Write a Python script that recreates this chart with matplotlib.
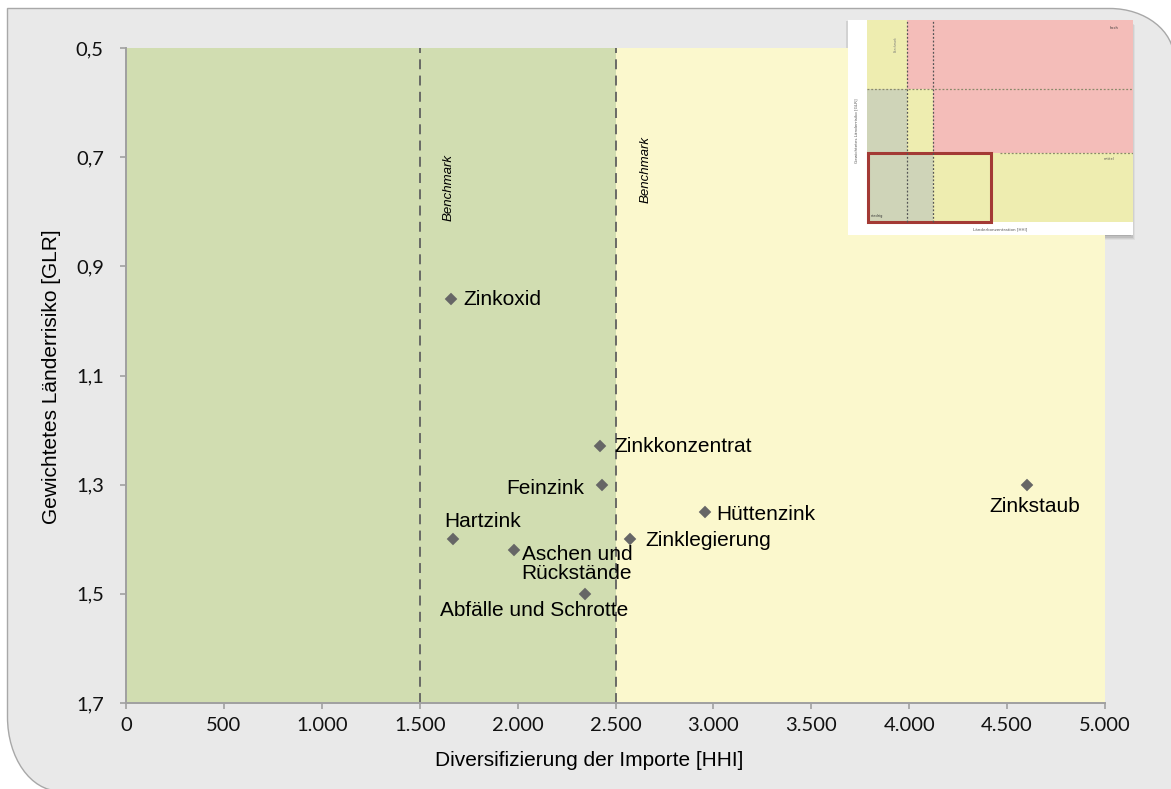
import matplotlib
matplotlib.use("Agg")
import matplotlib.pyplot as plt
from matplotlib.path import Path
from matplotlib.patches import PathPatch, Rectangle
from matplotlib.ticker import FixedLocator, FuncFormatter

# --- data -------------------------------------------------------------
products = ["Zinkoxid", "Zinkkonzentrat", "Feinzink", "Hartzink",
            "Aschen und\nRückstände", "Abfälle und Schrotte",
            "Zinklegierung", "Hüttenzink", "Zinkstaub"]
hhi = [1660, 2420, 2430, 1670, 1980, 2345, 2575, 2955, 4600]
glr = [0.96, 1.23, 1.30, 1.40, 1.42, 1.50, 1.40, 1.35, 1.30]

benchmarks = [1500, 2500]
x_ticks = [0, 500, 1000, 1500, 2000, 2500, 3000, 3500, 4000, 4500, 5000]
y_ticks = [0.5, 0.7, 0.9, 1.1, 1.3, 1.5, 1.7]

# label placement: (dx, dy) in pixels, horizontal / vertical alignment
label_style = [
    (12, 0, "left", "center"),
    (15, 0, "left", "center"),
    (-18, -4, "right", "center"),
    (-9, 18, "left", "center"),
    (8, 5, "left", "top"),
    (-51, -17, "center", "center"),
    (15, -1, "left", "center"),
    (12, -3, "left", "center"),
    (8, -22, "center", "center"),
]

W, H, DPI = 1171, 789, 100
fig = plt.figure(figsize=(W / DPI, H / DPI), dpi=DPI)
fig.patch.set_facecolor("white")

# --- panel background with rounded corners ------------------------------
bg = fig.add_axes([0, 0, 1, 1])
bg.set_xlim(0, W)
bg.set_ylim(H, 0)
bg.axis("off")
k = 0.5523
L, T, R, B = 7.5, 8.5, 1174, 791
rtx, rty = 64, 50
rbx, rby = 52, 74
verts = [
    (L, T),
    (R - rtx, T),
    (R - rtx + k * rtx, T), (R, T + rty - k * rty), (R, T + rty),
    (R, B),
    (L + rbx, B),
    (L + rbx - k * rbx, B), (L, B - rby + k * rby), (L, B - rby),
    (L, T),
]
codes = [Path.MOVETO, Path.LINETO,
         Path.CURVE4, Path.CURVE4, Path.CURVE4,
         Path.LINETO, Path.LINETO,
         Path.CURVE4, Path.CURVE4, Path.CURVE4,
         Path.CLOSEPOLY]
bg.add_patch(PathPatch(Path(verts, codes), facecolor="#e9e9e9",
                       edgecolor="#a8a8a8", lw=1.0))

# --- main chart -------------------------------------------------------
ax_l, ax_r, ax_t, ax_b = 126, 1105, 48, 703
ax = fig.add_axes([ax_l / W, 1 - ax_b / H, (ax_r - ax_l) / W, (ax_b - ax_t) / H])
ax.set_xlim(x_ticks[0], x_ticks[-1])
ax.set_ylim(y_ticks[-1], y_ticks[0])
ax.set_facecolor("none")

ax.axvspan(x_ticks[0], benchmarks[1], color="#d1ddb1", lw=0, zorder=0)
ax.axvspan(benchmarks[1], x_ticks[-1], color="#fbf8cd", lw=0, zorder=0)

for b in benchmarks:
    ax.axvline(b, color="#606060", lw=1.3, dashes=(5.5, 3.5), zorder=1)

ax.text(1648, 0.755, "Benchmark", rotation=90, style="italic",
        family="Liberation Sans", fontsize=9.5, ha="center", va="center")
ax.text(2652, 0.722, "Benchmark", rotation=90, style="italic",
        family="Liberation Sans", fontsize=9.5, ha="center", va="center")

ax.plot(hhi, glr, linestyle="none", marker="D", ms=6.6,
        color="#666666", mec="#666666", mew=0.3, zorder=3)

for name, x, y, (dx, dy, ha, va) in zip(products, hhi, glr, label_style):
    ax.annotate(name, (x, y), xytext=(dx, dy), textcoords="offset pixels",
                ha=ha, va=va, fontsize=15, family="Liberation Sans",
                color="black", linespacing=1.0, zorder=4)

for side in ("top", "right"):
    ax.spines[side].set_visible(False)
for side in ("left", "bottom"):
    ax.spines[side].set_color("#a0a0a0")
    ax.spines[side].set_linewidth(1.4)

ax.xaxis.set_major_locator(FixedLocator(x_ticks))
ax.yaxis.set_major_locator(FixedLocator(y_ticks))
ax.xaxis.set_major_formatter(FuncFormatter(
    lambda v, p: f"{int(round(v)):,}".replace(",", ".")))
ax.yaxis.set_major_formatter(FuncFormatter(
    lambda v, p: f"{v:.1f}".replace(".", ",")))
ax.tick_params(axis="both", direction="out", length=4, width=1.2,
               color="#a0a0a0", labelsize=14.5, labelcolor="#111111")
ax.tick_params(axis="x", pad=6)
ax.tick_params(axis="y", pad=12)
for lab in ax.get_xticklabels() + ax.get_yticklabels():
    lab.set_family("Lato")

ax.set_xlabel("Diversifizierung der Importe [HHI]", family="Liberation Sans",
              fontsize=15)
ax.set_ylabel("Gewichtetes Länderrisiko [GLR]", family="Liberation Sans",
              fontsize=15)
ax.xaxis.set_label_coords((589 - ax_l) / (ax_r - ax_l),
                          -(760 - ax_b) / (ax_b - ax_t))
ax.yaxis.set_label_coords(-(ax_l - 52) / (ax_r - ax_l),
                          (ax_b - 377) / (ax_b - ax_t))
ax.xaxis.label.set_va("center")
ax.yaxis.label.set_va("center")

# --- thumbnail of the full risk matrix --------------------------------
ix0, iy0, ix1, iy1 = 848, 20, 1133, 235
for i, a in enumerate([0.06, 0.08, 0.10, 0.12]):
    off = 5 - i * 1.2
    bg.add_patch(Rectangle((ix0 + off - 3, iy0 + off), ix1 - ix0, iy1 - iy0,
                           facecolor="#303030", alpha=a, lw=0, zorder=5))

inset = fig.add_axes([ix0 / W, 1 - iy1 / H, (ix1 - ix0) / W, (iy1 - iy0) / H])
inset.set_facecolor("white")
inset.set_xticks([])
inset.set_yticks([])
for s in inset.spines.values():
    s.set_visible(False)
inset.set_xlim(-700, 10000)
inset.set_ylim(-0.065, 1.0)

ti_yellow, ti_red, ti_green = "#eeedb0", "#f4bdb9", "#cfd4b8"
zones = [
    (0, 1500, 0.66, 1.0, ti_yellow),
    (1500, 10000, 0.66, 1.0, ti_red),
    (0, 1500, 0.34, 0.66, ti_green),
    (1500, 2500, 0.34, 0.66, ti_yellow),
    (2500, 10000, 0.34, 0.66, ti_red),
    (0, 2500, 0.0, 0.34, ti_green),
    (2500, 10000, 0.0, 0.34, ti_yellow),
]
for x0, x1, y0, y1, c in zones:
    inset.add_patch(Rectangle((x0, y0), x1 - x0, y1 - y0, facecolor=c, lw=0))
for b in benchmarks:
    inset.plot([b, b], [0, 1], color="#555555", lw=0.9, dashes=(1.5, 1.5))
inset.plot([0, 10000], [0.66, 0.66], color="#8a8a6a", lw=0.9, dashes=(1.5, 1.5))
inset.plot([5000, 10000], [0.34, 0.34], color="#8a8a6a", lw=0.9, dashes=(1.5, 1.5))
inset.add_patch(Rectangle((50, 0.0), 4600, 0.34, facecolor="none",
                          edgecolor="#a33a35", lw=2.2))
inset.text(9300, 0.96, "hoch", fontsize=2.5, ha="center", va="center",
           color="#333333")
inset.text(9100, 0.31, "mittel", fontsize=2.5, ha="center", va="center",
           color="#555555")
inset.text(400, 0.03, "niedrig", fontsize=2.5, ha="center", va="center",
           color="#333333")
inset.text(-380, 0.45, "Gewichtetes Länderrisiko [GLR]", fontsize=3,
           rotation=90, ha="center", va="center", color="#555555")
inset.text(5000, -0.035, "Länderkonzentration [HHI]", fontsize=3,
           ha="center", va="center", color="#555555")
inset.text(1100, 0.88, "Benchmark", fontsize=2, rotation=90,
           ha="center", va="center", color="#777777")

fig.savefig("out.png", dpi=DPI, facecolor=fig.get_facecolor())
